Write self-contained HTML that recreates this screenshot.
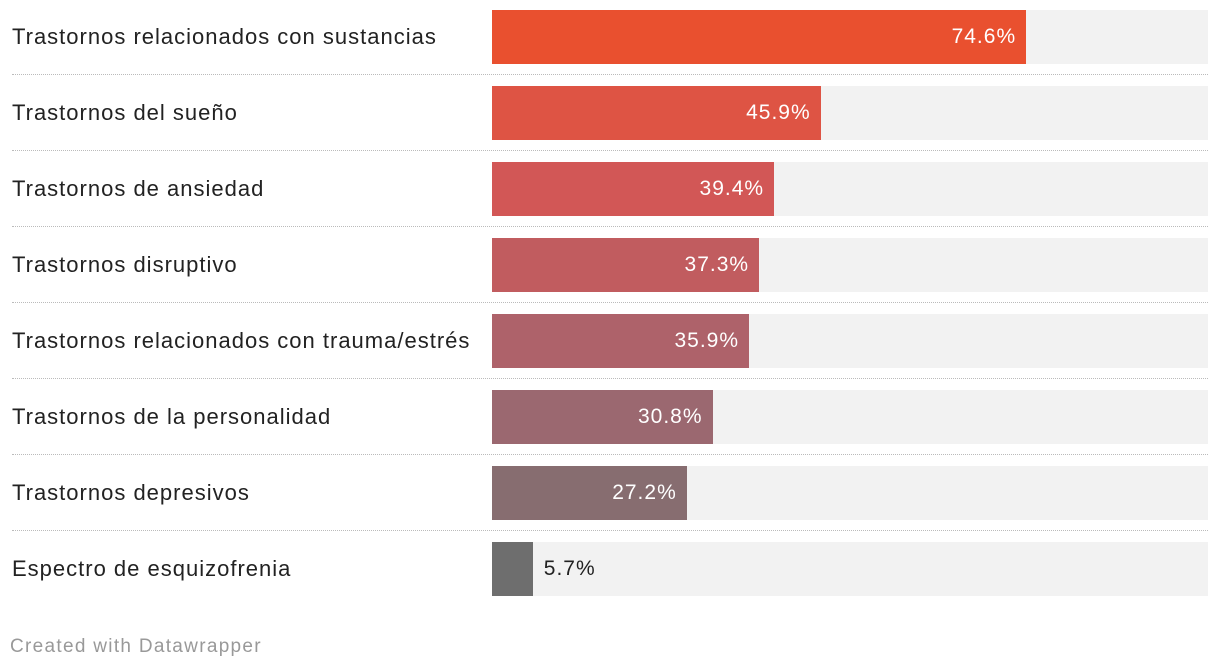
<!DOCTYPE html>
<html><head><meta charset="utf-8">
<style>
body{margin:0;width:1220px;height:672px;background:#fff;font-family:"Liberation Sans",sans-serif;overflow:hidden;position:relative}
.row{position:absolute;left:0;width:1220px;height:76px}
.lbl{position:absolute;left:12px;top:10px;height:54px;line-height:54px;font-size:22px;color:#222;letter-spacing:1px;white-space:nowrap}
.bg{position:absolute;left:492px;top:10px;width:716px;height:54px;background:#f2f2f2}
.bar{position:absolute;left:492px;top:10px;height:54px}
.val{position:absolute;top:10px;height:54px;line-height:54px;font-size:21px;letter-spacing:1px}
.sep{position:absolute;left:12px;width:1196px;top:74px;border-top:1px dotted #bbb}
.foot{position:absolute;left:10px;top:636px;font-size:19px;color:#999;letter-spacing:1.3px}
</style></head><body>
<div id="chart"></div>
<div class="foot">Created with Datawrapper</div>
<script>
const categories=["Trastornos relacionados con sustancias","Trastornos del sueño","Trastornos de ansiedad","Trastornos disruptivo","Trastornos relacionados con trauma/estrés","Trastornos de la personalidad","Trastornos depresivos","Espectro de esquizofrenia"];
const values=[74.6,45.9,39.4,37.3,35.9,30.8,27.2,5.7];
const colors=["#e9502f","#de5444","#d25756","#c15c5f","#ae626a","#9b6870","#876d70","#6e6e6e"];
const chart=document.getElementById('chart');
const x=v=>v/100*716;
values.forEach((v,i)=>{
 const r=document.createElement('div');r.className='row';r.style.top=(i*76)+'px';
 
 
 const l=document.createElement('div');l.className='lbl';l.textContent=categories[i];
 
 
 const bg=document.createElement('div');bg.className='bg';
 
 
 const b=document.createElement('div');b.className='bar';b.style.width=x(v)+'px';b.style.background=colors[i];
 
 
 const t=document.createElement('div');t.className='val';t.textContent=v.toFixed(1)+'%';
 
 
 const w=x(v);
 if(w>100){t.style.left=(492+w-110)+'px';t.style.width='100px';t.style.textAlign='right';t.style.color='#fff';}
 else{t.style.left=(492+w+11)+'px';t.style.color='#222';}
 r.append(l,bg,b,t);
 if(i<values.length-1){const s=document.createElement('div');s.className='sep';
 
 
 r.append(s);}
 chart.append(r);
});
</script>
</body></html>
